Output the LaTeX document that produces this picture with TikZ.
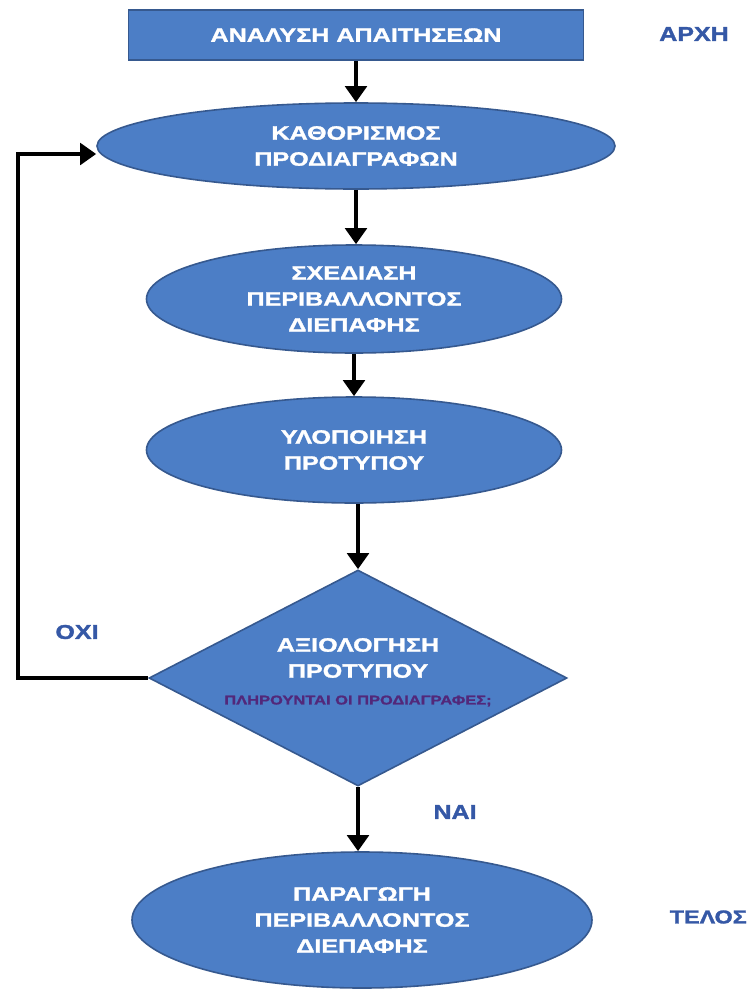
\documentclass[tikz,border=0pt]{standalone}
\usepackage{fontspec}
\usetikzlibrary{shapes.geometric,arrows.meta}
\newfontfamily\boxfont[FakeStretch=1.3,FakeBold=1.5]{Liberation Sans}
\newfontfamily\lblfont[FakeStretch=1.25,FakeBold=1.5]{Liberation Sans}
\definecolor{boxfill}{HTML}{4C7EC6}
\definecolor{boxedge}{HTML}{36598F}
\definecolor{lblblue}{HTML}{3558A6}
\definecolor{qpurple}{HTML}{52287A}
\begin{document}
\begin{tikzpicture}[x=0.75pt,y=-0.75pt,
  shapebase/.style={fill=boxfill,draw=boxedge,line width=1.2pt,inner sep=0pt,
    text=white,font=\boxfont\bfseries\fontsize{14.5pt}{19.5pt}\selectfont,align=center},
  rectbox/.style={shapebase,rectangle,minimum width=455*0.75pt,minimum height=50*0.75pt},
  ellbox/.style={shapebase,ellipse},
  diabox/.style={fill=boxfill,draw=boxedge,line width=1.2pt,inner sep=0pt,diamond,
    minimum width=418*0.75pt,minimum height=216*0.75pt},
  sidelbl/.style={text=lblblue,font=\lblfont\bfseries\fontsize{15pt}{16pt}\selectfont,inner sep=0pt},
  arr/.style={line width=3pt,-{Triangle[length=12pt,width=16pt]}}]
\fill[white] (0,0) rectangle (750,989);
\useasboundingbox (0,0) rectangle (750,989);

\node[rectbox] (r) at (356,35) {ΑΝΑΛΥΣΗ ΑΠΑΙΤΗΣΕΩΝ};
\node[ellbox,minimum width=518*0.75pt,minimum height=86*0.75pt] (e1) at (356,146) {ΚΑΘΟΡΙΣΜΟΣ\\ΠΡΟΔΙΑΓΡΑΦΩΝ};
\node[ellbox,minimum width=415*0.75pt,minimum height=108*0.75pt] (e2) at (354,299) {ΣΧΕΔΙΑΣΗ\\ΠΕΡΙΒΑΛΛΟΝΤΟΣ\\ΔΙΕΠΑΦΗΣ};
\node[ellbox,minimum width=415*0.75pt,minimum height=106*0.75pt] (e3) at (354,450) {ΥΛΟΠΟΙΗΣΗ\\ΠΡΟΤΥΠΟΥ};
\node[diabox] (d) at (358,678) {};
\node[align=center,inner sep=0pt,text=white,font=\boxfont\bfseries\fontsize{14.5pt}{19.5pt}\selectfont] (dt) at (358,658) {ΑΞΙΟΛΟΓΗΣΗ\\ΠΡΟΤΥΠΟΥ};
\node[inner sep=0pt,text=qpurple,font=\boxfont\bfseries\fontsize{9.5pt}{10pt}\selectfont] (dq) at (358,701) {ΠΛΗΡΟΥΝΤΑΙ ΟΙ ΠΡΟΔΙΑΓΡΑΦΕΣ;};
\node[ellbox,minimum width=460*0.75pt,minimum height=136*0.75pt] (e4) at (362,920) {ΠΑΡΑΓΩΓΗ\\ΠΕΡΙΒΑΛΛΟΝΤΟΣ\\ΔΙΕΠΑΦΗΣ};

\node[sidelbl] (start) at (694,34) {ΑΡΧΗ};
\node[sidelbl] (no) at (77,632) {ΟΧΙ};
\node[sidelbl] (yes) at (455,812) {ΝΑΙ};
\node[sidelbl,anchor=east,font=\lblfont\bfseries\fontsize{14pt}{16pt}\selectfont] (end) at (747,917) {ΤΕΛΟΣ};

\draw[arr] (r.south) -- (r.south |- e1.north);
\draw[arr] (e1.south) -- (e1.south |- e2.north);
\draw[arr] (e2.south) -- (e2.south |- e3.north);
\draw[arr] (e3.south -| d.north) -- (d.north);
\draw[arr] (d.south) -- (d.south |- e4.north);
\coordinate (fb) at (18,678);
\draw[arr,line join=miter] (d.west) -- (fb) |- ([yshift=-6pt]e1.west);
\end{tikzpicture}
\end{document}
